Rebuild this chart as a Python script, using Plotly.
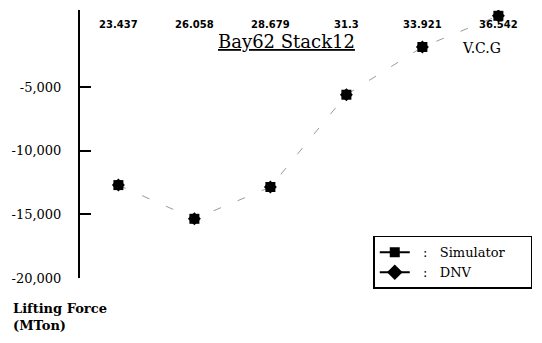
import plotly.graph_objects as go

# V.C.G positions (top axis) and lifting force per position
vcg = [23.437, 26.058, 28.679, 31.3, 33.921, 36.542]
vcg_labels = ["23.437", "26.058", "28.679", "31.3", "33.921", "36.542"]
simulator_force = [-12700, -15350, -12850, -5600, -1850, 600]
dnv_force = [-12700, -15350, -12850, -5600, -1850, 600]

force_ticks = [1056, -5000, -10000, -15000, -20000]
force_labels = ["", "-5,000", "-10,000", "-15,000", "-20,000"]

SERIF = "DejaVu Serif"

fig = go.Figure()

# measured curves (thin connecting lines, no legend entry)
fig.add_trace(go.Scatter(
    x=vcg, y=simulator_force, mode="lines+markers", showlegend=False,
    line=dict(color="#9a9a9a", width=1, dash="8px,18px"),
    marker=dict(symbol="square", size=10, color="black"),
))
fig.add_trace(go.Scatter(
    x=vcg, y=dnv_force, mode="markers", showlegend=False,
    marker=dict(symbol="diamond", size=10, color="black"),
))

# legend entries
fig.add_trace(go.Scatter(
    x=[None], y=[None], mode="lines+markers",
    name="&nbsp;&nbsp;:&nbsp;&nbsp;&nbsp;Simulator&nbsp;&nbsp;&nbsp;&nbsp;&nbsp;",
    line=dict(color="black", width=2),
    marker=dict(symbol="square", size=10, color="black"),
))
fig.add_trace(go.Scatter(
    x=[None], y=[None], mode="lines+markers",
    name="&nbsp;&nbsp;:&nbsp;&nbsp;&nbsp;DNV",
    line=dict(color="black", width=2),
    marker=dict(symbol="diamond", size=12, color="black"),
))

fig.update_layout(
    width=542, height=343,
    margin=dict(l=80, r=12, t=10, b=65),
    paper_bgcolor="white", plot_bgcolor="white",
    showlegend=True,
    legend=dict(
        x=0.662, y=0.157, xanchor="left", yanchor="top",
        bordercolor="black", borderwidth=1.5, bgcolor="white",
        font=dict(family=SERIF, size=13, color="black"),
        tracegroupgap=0,
    ),
    xaxis=dict(
        side="top", range=[22.113, 37.391],
        tickvals=vcg, ticktext=vcg_labels,
        ticklabelposition="inside", ticklabelstandoff=8,
        showline=False, showgrid=False, zeroline=False, ticks="",
        tickfont=dict(family="DejaVu Sans", size=10, color="black", weight="bold"),
    ),
    yaxis=dict(
        range=[-20000, 1056],
        tickvals=force_ticks, ticktext=force_labels,
        showline=True, linecolor="black", linewidth=2,
        ticks="inside", ticklen=11, tickwidth=2, tickcolor="black",
        ticklabelstandoff=14,
        showgrid=False, zeroline=False,
        tickfont=dict(family=SERIF, size=13, color="black"),
    ),
    annotations=[
        dict(text="<u>Bay62 Stack12</u>", xref="paper", yref="paper",
             x=0.4667, y=0.884, xanchor="center", yanchor="middle",
             showarrow=False, font=dict(family=SERIF, size=18, color="black")),
        dict(text="V.C.G", xref="paper", yref="paper",
             x=0.907, y=0.858, xanchor="center", yanchor="middle",
             showarrow=False, font=dict(family=SERIF, size=14, color="black")),
        dict(text="<b>Lifting Force</b>", xref="paper", yref="paper",
             x=-0.1556, y=-0.112, xanchor="left", yanchor="middle",
             showarrow=False, font=dict(family=SERIF, size=13, color="black")),
        dict(text="<b>(MTon)</b>", xref="paper", yref="paper",
             x=-0.1556, y=-0.179, xanchor="left", yanchor="middle",
             showarrow=False, font=dict(family=SERIF, size=13, color="black")),
    ],
)

fig.write_html("out.html")
